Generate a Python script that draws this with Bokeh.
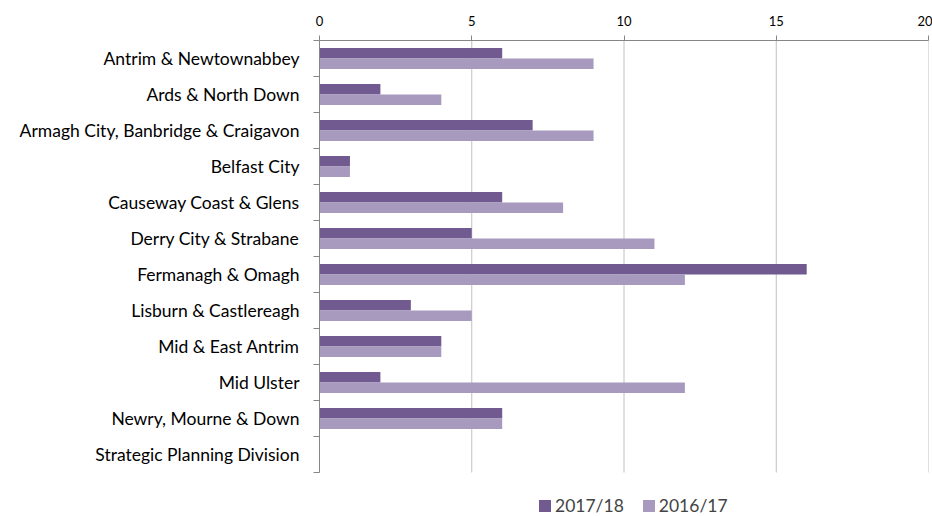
from bokeh.plotting import figure
from bokeh.models import (ColumnDataSource, Range1d, FixedTicker, Legend, LegendItem, Label)
from bokeh.transform import dodge
from bokeh.embed import file_html
from bokeh.resources import INLINE

# ---------------- data ----------------
authorities = [
    "Antrim & Newtownabbey",
    "Ards & North Down",
    "Armagh City, Banbridge & Craigavon",
    "Belfast City",
    "Causeway Coast & Glens",
    "Derry City & Strabane",
    "Fermanagh & Omagh",
    "Lisburn & Castlereagh",
    "Mid & East Antrim",
    "Mid Ulster",
    "Newry, Mourne & Down",
    "Strategic Planning Division",
]
apps_2017_18 = [6, 2, 7, 1, 6, 5, 16, 3, 4, 2, 6, 0]
apps_2016_17 = [9, 4, 9, 1, 8, 11, 12, 5, 4, 12, 6, 0]
series_labels = ["2017/18", "2016/17"]
x_ticks = [0, 5, 10, 15, 20]
title_text = "PAN PAD applications received by authority, 2016/17 & 2017/18"

# ---------------- style ----------------
DARK = "#715A8F"
LIGHT = "#A89ABF"
AXIS = "#868686"
GRID = "#C0C0C0"
FONT = "Lato"

n = len(authorities)
# category slots, first authority at the top
slot = [n - i - 0.5 for i in range(n)]
bounds = list(range(n + 1))

src = ColumnDataSource(dict(authority=authorities, slot=slot,
                            v1718=apps_2017_18, v1617=apps_2016_17))
grid_src = ColumnDataSource(dict(x=x_ticks, y0=[0] * len(x_ticks), y1=[n] * len(x_ticks)))

W, H = 932, 532
LEGEND_ROOM = 44 / 36.0   # extra room under the last slot for the legend
p = figure(width=W, height=H, output_backend="svg", toolbar_location=None,
           y_range=Range1d(-LEGEND_ROOM, n),
           x_range=Range1d(x_ticks[0], x_ticks[-1]),
           x_axis_location="above",
           min_border_left=319, min_border_right=4,
           min_border_top=56, min_border_bottom=0)
p.styles = {"margin": "-16px 0px 0px 0px"}
p.outline_line_color = None
p.background_fill_color = "white"
p.border_fill_color = "white"
p.xgrid.grid_line_color = None
p.ygrid.grid_line_color = None

# vertical gridlines, only over the category slots
p.segment(x0="x", y0="y0", x1="x", y1="y1", source=grid_src,
          line_color=GRID, line_width=1)

r1 = p.hbar(y=dodge("slot", 0.145), left=0, right="v1718",
            height=0.29, source=src, fill_color=DARK, line_color=None)
r2 = p.hbar(y=dodge("slot", -0.145), left=0, right="v1617",
            height=0.29, source=src, fill_color=LIGHT, line_color=None)

# top value axis
xa = p.xaxis[0]
xa.ticker = FixedTicker(ticks=x_ticks)
xa.axis_line_color = AXIS
xa.major_tick_line_color = AXIS
xa.major_tick_out = 5
xa.major_tick_in = 0
xa.minor_tick_line_color = None
xa.major_label_text_font = FONT
xa.major_label_text_font_size = "13px"
xa.major_label_text_color = "#000000"
xa.major_label_standoff = 10

# left category axis: labels at slot centres, tick marks at slot boundaries
ya = p.yaxis[0]
ya.bounds = (0, n)
ya.ticker = FixedTicker(ticks=slot, minor_ticks=bounds)
ya.major_label_overrides = {s: a for s, a in zip(slot, authorities)}
ya.axis_line_color = AXIS
ya.major_tick_line_color = None
ya.major_tick_out = 0
ya.major_tick_in = 0
ya.minor_tick_line_color = AXIS
ya.minor_tick_out = 6
ya.minor_tick_in = 0
ya.major_label_text_font = FONT
ya.major_label_text_font_size = "17.5px"
ya.major_label_text_color = "#000000"
ya.major_label_standoff = 14

# title (mostly cut off at the top as in the reference)
title = Label(x=-316, y=515, x_units="screen", y_units="screen", text=title_text,
              text_font=FONT, text_font_size="25px", text_color="#8064A2",
              text_baseline="alphabetic")
p.add_layout(title)

legend = Legend(items=[LegendItem(label=series_labels[0], renderers=[r1]),
                       LegendItem(label=series_labels[1], renderers=[r2])],
                location=(218, 0), orientation="horizontal",
                glyph_width=15, glyph_height=15, label_standoff=3, spacing=17,
                label_text_font=FONT, label_text_font_size="17.5px",
                label_height=17, padding=0, margin=0,
                border_line_color=None, background_fill_alpha=0)
p.add_layout(legend)

open("out.html", "w").write(file_html(p, INLINE))
